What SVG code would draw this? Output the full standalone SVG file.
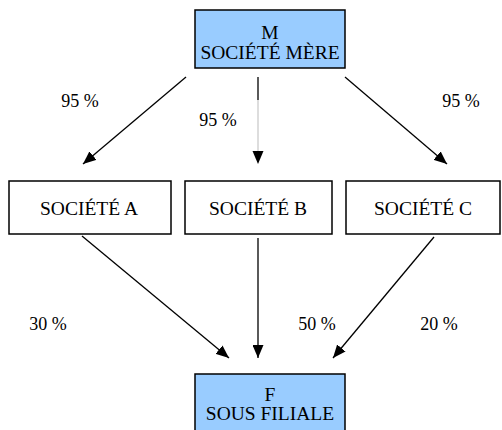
<svg xmlns="http://www.w3.org/2000/svg" width="502" height="430" viewBox="0 0 502 430">
<style>
.box{fill:#fff;stroke:#000;stroke-width:1.5}
.blue{fill:#99CCFF;stroke:#000;stroke-width:1.5}
text{font-family:"Liberation Serif","Times New Roman","DejaVu Serif",serif;font-size:18px;fill:#000;text-anchor:middle}
.nt{font-size:19.5px}
.ln{stroke:#000;stroke-width:1.3;fill:none}
</style>
<defs>
<marker id="ah" markerWidth="13" markerHeight="11" refX="13" refY="5.5" orient="auto" markerUnits="userSpaceOnUse">
<path d="M0,0 L13,5.5 L0,11 Z" fill="#000"/>
</marker>
</defs>
<g id="M">
<rect class="blue" x="195" y="10" width="150" height="58"/>
<text class="nt" x="270" y="39">M</text>
<text class="nt" x="270" y="59">SOCIÉTÉ MÈRE</text>
</g>
<g id="A">
<rect class="box" x="9" y="181" width="162" height="53"/>
<text class="nt" x="89" y="215">SOCIÉTÉ A</text>
</g>
<g id="B">
<rect class="box" x="185" y="181" width="147" height="53"/>
<text class="nt" x="258" y="215">SOCIÉTÉ B</text>
</g>
<g id="C">
<rect class="box" x="346" y="181" width="154" height="53"/>
<text class="nt" x="423" y="215">SOCIÉTÉ C</text>
</g>
<g id="F">
<rect class="blue" x="195" y="374" width="150" height="60"/>
<text class="nt" x="270" y="401">F</text>
<text class="nt" x="270" y="420">SOUS FILIALE</text>
</g>
<g id="connectors">
<line class="ln" x1="186" y1="77" x2="83" y2="164" marker-end="url(#ah)"/>
<line class="ln" x1="258" y1="77" x2="258" y2="100"/>
<line x1="258" y1="100" x2="258" y2="152" stroke="#aaa" stroke-width="0.8"/>
<path d="M252.5,151 L258,164 L263.5,151 Z" fill="#000"/>
<line class="ln" x1="345" y1="77" x2="447" y2="164" marker-end="url(#ah)"/>
<line class="ln" x1="82" y1="236" x2="229" y2="358" marker-end="url(#ah)"/>
<line class="ln" x1="258" y1="238" x2="258" y2="358" marker-end="url(#ah)"/>
<line class="ln" x1="434" y1="237" x2="333" y2="358" marker-end="url(#ah)"/>
</g>
<g id="labels">
<text x="80" y="107">95 %</text>
<text x="218" y="126">95 %</text>
<text x="461" y="107">95 %</text>
<text x="48" y="330">30 %</text>
<text x="317" y="330">50 %</text>
<text x="439" y="330">20 %</text>
</g>
</svg>
